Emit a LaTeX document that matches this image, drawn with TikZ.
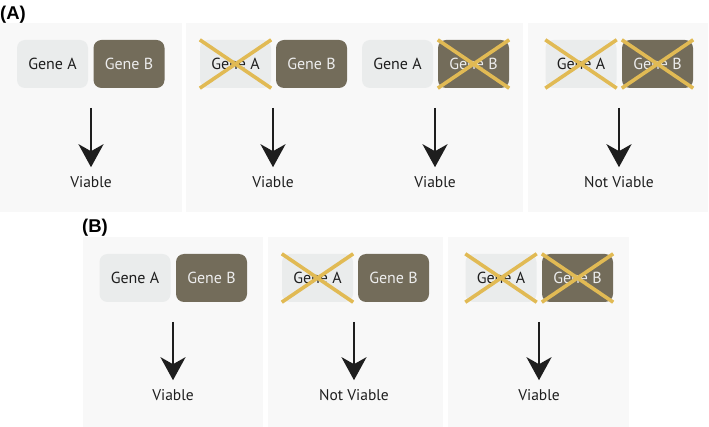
\documentclass[tikz,border=0pt]{standalone}
\usepackage{fontspec}
\setmainfont{PT Sans}
\usetikzlibrary{arrows.meta}
\definecolor{panelbg}{HTML}{F8F8F8}
\definecolor{genea}{HTML}{EAECEC}
\definecolor{geneb}{HTML}{736C5A}
\definecolor{genebtext}{HTML}{EDEDED}
\definecolor{crossc}{HTML}{E1BA54}
\definecolor{txt}{HTML}{1E1E1E}
\tikzset{
  panel/.style={fill=panelbg, draw=none},
  geneA/.style={fill=genea, draw=none, rounded corners=8pt, minimum width=71pt, minimum height=48pt, inner sep=0pt, text=txt, font=\fontsize{16}{18}\selectfont},
  geneB/.style={fill=geneb, draw=none, rounded corners=8pt, minimum width=71pt, minimum height=48pt, inner sep=0pt, text=genebtext, font=\fontsize{16}{18}\selectfont},
  result/.style={inner sep=0pt, text=txt, font=\fontsize{15.5}{18}\selectfont},
  arr/.style={line width=2.6pt, draw=txt, -{Stealth[length=23pt, width=25pt, inset=7pt]}, shorten >=9pt},
  crossline/.style={draw=crossc, line width=3.6pt},
  lbl/.style={inner sep=0pt, font=\fontsize{18.5}{20}\sffamily\bfseries\selectfont, text=black}
}
\setsansfont{Liberation Sans}
\newcommand{\xout}[1]{%
  \draw[crossline] (#1.north west) -- (#1.south east);
  \draw[crossline] (#1.south west) -- (#1.north east);}
\begin{document}
\begin{tikzpicture}[x=1pt,y=-1pt]
\useasboundingbox (0,0) rectangle (709,427);
% panels A
\fill[panel] (0,23) rectangle (182,212);
\fill[panel] (186,23) rectangle (523,212);
\fill[panel] (528,23) rectangle (708,212);
% panels B
\fill[panel] (83,237) rectangle (263,427);
\fill[panel] (268,237) rectangle (443,427);
\fill[panel] (448,237) rectangle (629,427);
% labels
\node[lbl, anchor=west] (labA) at (0,15) {(A)};
\node[lbl, anchor=west] (labB) at (82,228) {(B)};
% A1
\node[geneA] (a1a) at (52.5,64) {Gene A};
\node[geneB] (a1b) at (129,64) {Gene B};
\coordinate (a1t) at (91,108);
\node[result] (a1r) at (91,182) {Viable};
\draw[arr] (a1t) -- (a1r.north);
% A2
\node[geneA] (a2a) at (235.5,64) {Gene A};
\node[geneB] (a2b) at (311.5,64) {Gene B};
\xout{a2a}
\coordinate (a2t) at (273,108);
\node[result] (a2r) at (273,182) {Viable};
\draw[arr] (a2t) -- (a2r.north);
% A3
\node[geneA] (a3a) at (397.5,64) {Gene A};
\node[geneB] (a3b) at (473.5,64) {Gene B};
\xout{a3b}
\coordinate (a3t) at (435,108);
\node[result] (a3r) at (435,182) {Viable};
\draw[arr] (a3t) -- (a3r.north);
% A4
\node[geneA] (a4a) at (581,64) {Gene A};
\node[geneB] (a4b) at (657.5,64) {Gene B};
\xout{a4a}
\xout{a4b}
\coordinate (a4t) at (619,108);
\node[result] (a4r) at (619,182) {Not Viable};
\draw[arr] (a4t) -- (a4r.north);
% B1
\node[geneA] (b1a) at (135,278) {Gene A};
\node[geneB] (b1b) at (211.5,278) {Gene B};
\coordinate (b1t) at (173,322);
\node[result] (b1r) at (173,395) {Viable};
\draw[arr] (b1t) -- (b1r.north);
% B2
\node[geneA] (b2a) at (317.5,278) {Gene A};
\node[geneB] (b2b) at (393.5,278) {Gene B};
\xout{b2a}
\coordinate (b2t) at (354,322);
\node[result] (b2r) at (354,395) {Not Viable};
\draw[arr] (b2t) -- (b2r.north);
% B3
\node[geneA] (b3a) at (501,278) {Gene A};
\node[geneB] (b3b) at (577.5,278) {Gene B};
\xout{b3a}
\xout{b3b}
\coordinate (b3t) at (539,322);
\node[result] (b3r) at (539,395) {Viable};
\draw[arr] (b3t) -- (b3r.north);
\end{tikzpicture}
\end{document}
